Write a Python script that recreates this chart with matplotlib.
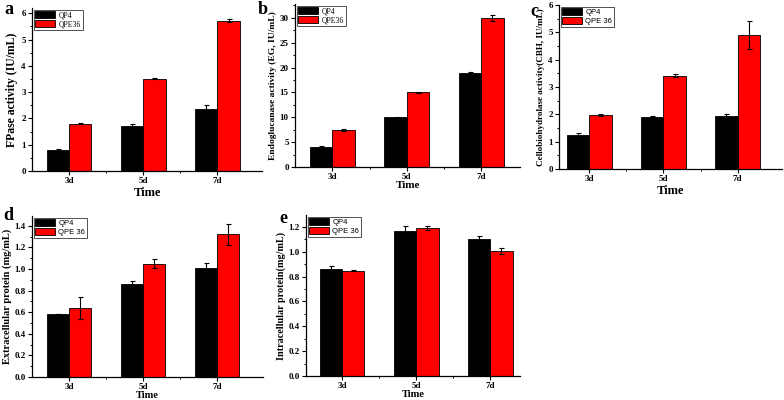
# ============================================================
# plot.py
# Cellulase activity and protein, QP4 vs QPE36 (panels a-e)
# ============================================================

import numpy as np
import matplotlib
matplotlib.use("Agg")
import matplotlib.pyplot as plt
from matplotlib.ticker import MultipleLocator

# ------------------------------------------------------------
# 1. DATA
# ------------------------------------------------------------

days = ["3d", "5d", "7d"]

fpase_qp4 = [0.81, 1.73, 2.35]
fpase_qp4_err = [0.04, 0.06, 0.16]
fpase_qpe36 = [1.80, 3.51, 5.72]
fpase_qpe36_err = [0.01, 0.02, 0.05]

eg_qp4 = [4.1, 10.0, 19.0]
eg_qp4_err = [0.2, 0.05, 0.15]
eg_qpe36 = [7.35, 15.0, 30.0]
eg_qpe36_err = [0.2, 0.05, 0.6]

cbh_qp4 = [1.25, 1.92, 1.95]
cbh_qp4_err = [0.06, 0.03, 0.07]
cbh_qpe36 = [1.97, 3.41, 4.90]
cbh_qpe36_err = [0.03, 0.05, 0.50]

extra_qp4 = [0.58, 0.86, 1.01]
extra_qp4_err = [0.0, 0.025, 0.045]
extra_qpe36 = [0.64, 1.05, 1.32]
extra_qpe36_err = [0.10, 0.045, 0.095]

intra_qp4 = [0.86, 1.17, 1.105]
intra_qp4_err = [0.027, 0.035, 0.02]
intra_qpe36 = [0.848, 1.19, 1.007]
intra_qpe36_err = [0.005, 0.015, 0.025]

# ------------------------------------------------------------
# 2. STYLE
# ------------------------------------------------------------

W, H = 784, 400
SERIF = "Liberation Serif"
SANS = "Liberation Sans"

plt.rcParams["font.family"] = SERIF
plt.rcParams["font.weight"] = "bold"

fig = plt.figure(figsize=(W / 100, H / 100), dpi=100)


def px_axes(left, top, right, bottom):
    return fig.add_axes([left / W, 1 - bottom / H, (right - left) / W, (bottom - top) / H])


def panel(box, qp4, qp4_err, qpe, qpe_err, ylabel, ylim, major, xlim,
          letter, letter_xy, legend_names, legend_font, ylab_size, time_size,
          time_pad):
    ax = px_axes(*box)
    x = np.arange(len(days))
    w = 0.3
    ax.bar(x - w / 2, qp4, w, color="black", edgecolor="black", linewidth=0.6,
           yerr=qp4_err, capsize=1.8, error_kw=dict(elinewidth=0.8, capthick=0.8),
           label=legend_names[0])
    ax.bar(x + w / 2, qpe, w, color="#ff0000", edgecolor="black", linewidth=0.6,
           yerr=qpe_err, capsize=1.8, error_kw=dict(elinewidth=0.8, capthick=0.8),
           label=legend_names[1])

    ax.set_xlim(*xlim)
    ax.set_ylim(*ylim)
    ax.set_xticks(x)
    ax.set_xticklabels(days)
    ax.xaxis.set_minor_locator(plt.FixedLocator([0.5, 1.5]))
    ax.yaxis.set_major_locator(MultipleLocator(major))
    ax.yaxis.set_minor_locator(MultipleLocator(major / 2))
    if major < 1:
        ax.yaxis.set_major_formatter(plt.FormatStrFormatter("%.1f"))

    for s in ["top", "right"]:
        ax.spines[s].set_visible(False)
    for s in ["left", "bottom"]:
        ax.spines[s].set_linewidth(0.9)

    ax.tick_params(which="major", direction="out", length=3, width=0.8,
                   labelsize=6.5, pad=1.5)
    ax.tick_params(which="minor", direction="out", length=1.6, width=0.7)
    for lab in ax.get_xticklabels() + ax.get_yticklabels():
        lab.set_fontweight("bold")

    ax.set_ylabel(ylabel, fontsize=ylab_size, fontweight="bold", labelpad=2)
    ax.set_xlabel("Time", fontsize=time_size, fontweight="bold", labelpad=time_pad)

    leg = ax.legend(loc="upper left", bbox_to_anchor=(0.0, 1.0),
                    prop={"family": legend_font, "size": 5.5, "weight": "normal"},
                    frameon=True, fancybox=False, edgecolor="black",
                    handlelength=2.6, handleheight=1.0, handletextpad=0.4,
                    labelspacing=0.1, borderpad=0.25, borderaxespad=0.2)
    leg.get_frame().set_linewidth(0.6)

    fig.text(letter_xy[0] / W, 1 - letter_xy[1] / H, letter, fontsize=13,
             fontweight="bold", ha="center", va="center", family=SERIF)
    return ax


# ------------------------------------------------------------
# 3. PANELS
# ------------------------------------------------------------

panel((32, 8, 262, 171), fpase_qp4, fpase_qp4_err, fpase_qpe36, fpase_qpe36_err,
      "FPase activity (IU/mL)", (0, 6.2), 1, (-0.5, 2.6),
      "a", (9, 10), ["QP4", "QPE36"], SERIF, 8.5, 9, 1)

panel((295, 4, 520, 167), eg_qp4, eg_qp4_err, eg_qpe36, eg_qpe36_err,
      "Endoglucanase activity (EG, IU/mL)", (0, 32.8), 5, (-0.5, 2.52),
      "b", (263, 10), ["QP4", "QPE36"], SERIF, 6.8, 8, 0)

panel((559, 5, 782, 169), cbh_qp4, cbh_qp4_err, cbh_qpe36, cbh_qpe36_err,
      "Cellobiohydrolase activity(CBH, IU/mL)", (0, 6), 1, (-0.41, 2.6),
      "c", (534, 12), ["QP4", "QPE 36"], SANS, 6.6, 9, 1)

panel((32, 216, 263, 377), extra_qp4, extra_qp4_err, extra_qpe36, extra_qpe36_err,
      "Extracellular protein (mg/mL)", (0, 1.49), 0.2, (-0.5, 2.62),
      "d", (8, 216), ["QP4", "QPE 36"], SANS, 7.5, 7.5, 0)

panel((306, 215, 520, 376), intra_qp4, intra_qp4_err, intra_qpe36, intra_qpe36_err,
      "Intracellular protein(mg/mL)", (0, 1.295), 0.2, (-0.49, 2.4),
      "e", (283, 218), ["QP4", "QPE 36"], SANS, 7.3, 7.5, 0)

plt.savefig("out.png", dpi=100)
plt.close()
